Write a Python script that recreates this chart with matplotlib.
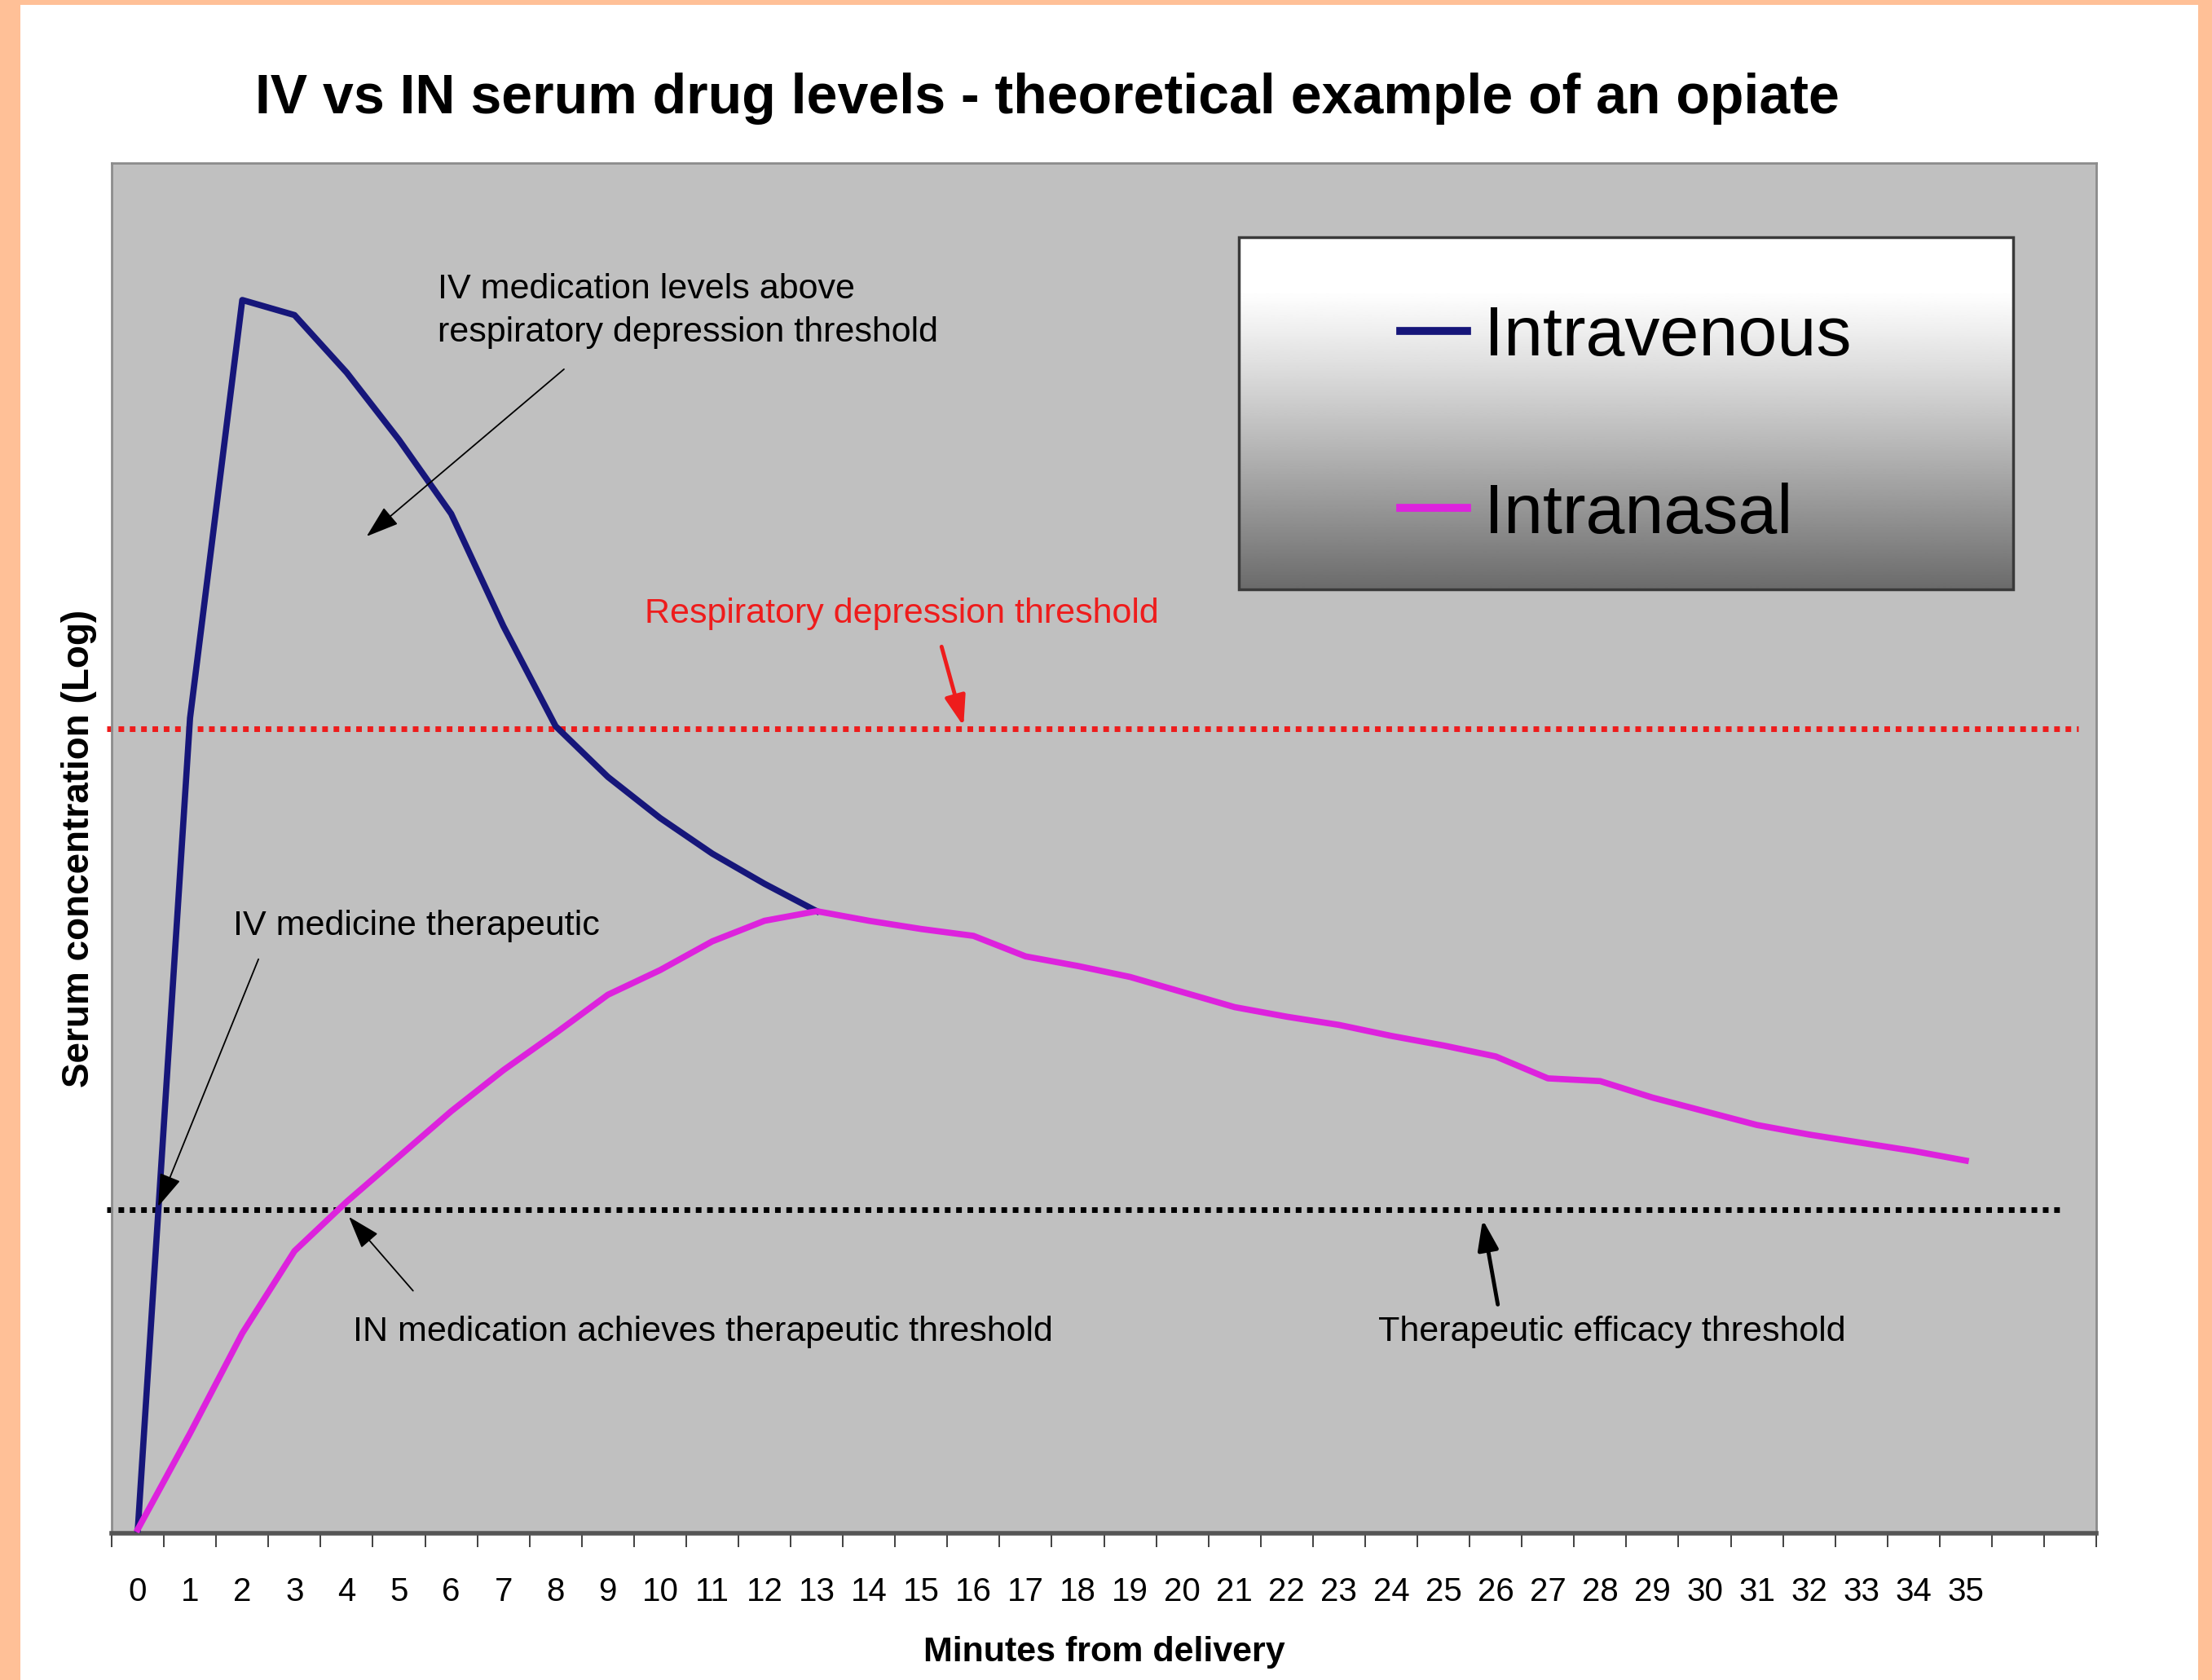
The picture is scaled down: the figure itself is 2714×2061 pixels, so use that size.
import numpy as np
import matplotlib.pyplot as plt
from matplotlib.patches import Rectangle

plt.rcParams['font.family'] = ['Liberation Sans', 'DejaVu Sans']

# --- data (serum level on an arbitrary 0-100 log scale) ---
minutes = list(range(36))
tick_labels = [str(m) for m in minutes]
iv_level = [0.3, 59.5, 90.0, 88.9, 84.7, 79.8, 74.4, 66.2, 58.9, 55.2,
            52.2, 49.6, 47.4, 45.4]
in_level = [0.3, 7.3, 14.6, 20.6, 24.2, 27.5, 30.8, 33.8, 36.5, 39.3,
            41.1, 43.2, 44.7, 45.4, 44.7, 44.1, 43.6, 42.1, 41.4, 40.6,
            39.5, 38.4, 37.7, 37.1, 36.3, 35.6, 34.8, 33.2, 33.0, 31.8,
            30.8, 29.8, 29.1, 28.5, 27.9, 27.2]
resp_threshold = 58.7
ther_threshold = 23.6

IV_COL = '#16167a'
IN_COL = '#dd22dd'
RED = '#ee1c1c'

fig = plt.figure(figsize=(27.14, 20.61), dpi=100)
fig.patch.set_facecolor('#ffc097')
fig.add_artist(Rectangle((25 / 2714, 0), 2672 / 2714, 2055 / 2061,
                         transform=fig.transFigure, facecolor='white',
                         edgecolor='none', zorder=0))

ax = fig.add_axes([0.0505, 0.0873, 0.8972, 0.8157])
ax.set_facecolor('#c0c0c0')

# threshold lines (slightly wider than the plot area, like the original)
ax.plot([-0.6, 37.15], [resp_threshold] * 2, color=RED, lw=5,
        ls=(0, (1, 1.0)), clip_on=False, zorder=2)
ax.plot([-0.6, 36.8], [ther_threshold] * 2, color='black', lw=5,
        ls=(0, (1, 1.0)), clip_on=False, zorder=2)

# curves
ax.plot(minutes[:len(iv_level)], iv_level, color=IV_COL, lw=5.5,
        label='Intravenous', solid_joinstyle='round', zorder=3)
ax.plot(minutes, in_level, color=IN_COL, lw=5.5, label='Intranasal',
        solid_joinstyle='round', zorder=4)

# axes styling: category axis, labels between tick marks
ax.set_xticks(minutes)
ax.set_xticklabels(tick_labels)
ax.set_xticks(np.arange(-0.5, 38, 1), minor=True)
ax.tick_params(axis='x', which='major', length=0, pad=38, labelsize=29)
ax.tick_params(axis='x', which='minor', length=12, width=1.3,
               color='#333333', direction='out')
ax.set_yticks([])
for s in ['top', 'left', 'right']:
    ax.spines[s].set_color('#8c8c8c')
    ax.spines[s].set_linewidth(2)
ax.spines['bottom'].set_color('#555555')
ax.spines['bottom'].set_linewidth(4)

ax.set_xlabel('Minutes from delivery', fontsize=31, fontweight='bold',
              labelpad=25)
ax.set_ylabel('Serum concentration (Log)', fontsize=33, fontweight='bold',
              labelpad=13)
fig.text(0.4735, 0.9415,
         'IV vs IN serum drug levels - theoretical example of an opiate',
         ha='center', va='center', fontsize=49, fontweight='bold')

# --- legend box with grey gradient ---
lx0, lx1, ly0, ly1 = 0.568, 0.958, 0.689, 0.946
t = np.linspace(0, 1, 300)
shade = 1 - 0.58 * np.clip((t - 0.15) / 0.85, 0, 1) ** 1.1
ax.imshow(shade[:, None], cmap='gray', vmin=0, vmax=1,
          extent=(lx0, lx1, ly0, ly1), transform=ax.transAxes,
          aspect='auto', interpolation='bilinear', zorder=5)
ax.add_patch(Rectangle((lx0, ly0), lx1 - lx0, ly1 - ly0,
                       transform=ax.transAxes, facecolor='none',
                       edgecolor='#3a3a3a', lw=2.5, zorder=6))
leg = ax.legend(loc='center', bbox_to_anchor=(0.763, 0.808), frameon=False,
                fontsize=62, handlelength=0.95, handletextpad=0.25,
                labelspacing=1.6)
leg.set_zorder(7)
for ln in leg.get_lines():
    ln.set_linewidth(7)

# --- annotations ---
thin = dict(arrowstyle='-|>,head_length=1.8,head_width=0.6', color='black',
            lw=1.3, mutation_scale=14, shrinkA=0, shrinkB=0)
thick = dict(arrowstyle='-|>,head_length=1.6,head_width=0.55', color='black',
             lw=3.5, mutation_scale=14, shrinkA=0, shrinkB=0)
red_thick = dict(thick, color=RED)

ax.text(5.74, 89.2, 'IV medication levels above\nrespiratory depression threshold',
        ha='left', va='center', fontsize=31, linespacing=1.45, zorder=8)
ax.annotate('', xy=(4.38, 72.75), xytext=(8.16, 84.95), arrowprops=thin, zorder=8)

ax.text(14.62, 67.1, 'Respiratory depression threshold', color=RED,
        ha='center', va='center', fontsize=31, zorder=8)
ax.annotate('', xy=(15.81, 58.9), xytext=(15.39, 64.7), arrowprops=red_thick, zorder=8)

ax.text(1.83, 44.3, 'IV medicine therapeutic', ha='left', va='center',
        fontsize=31, zorder=8)
ax.annotate('', xy=(0.39, 23.85), xytext=(2.31, 41.9), arrowprops=thin, zorder=8)

ax.text(4.12, 14.7, 'IN medication achieves therapeutic threshold',
        ha='left', va='center', fontsize=31, zorder=8)
ax.annotate('', xy=(4.04, 23.1), xytext=(5.27, 17.7), arrowprops=thin, zorder=8)

ax.text(23.75, 14.7, 'Therapeutic efficacy threshold', ha='left',
        va='center', fontsize=31, zorder=8)
ax.annotate('', xy=(25.75, 22.9), xytext=(26.04, 16.7), arrowprops=thick, zorder=8)

ax.set_xlim(-0.5, 37.5)
ax.set_ylim(0, 100)

fig.savefig('out.png', dpi=100, facecolor=fig.get_facecolor())
